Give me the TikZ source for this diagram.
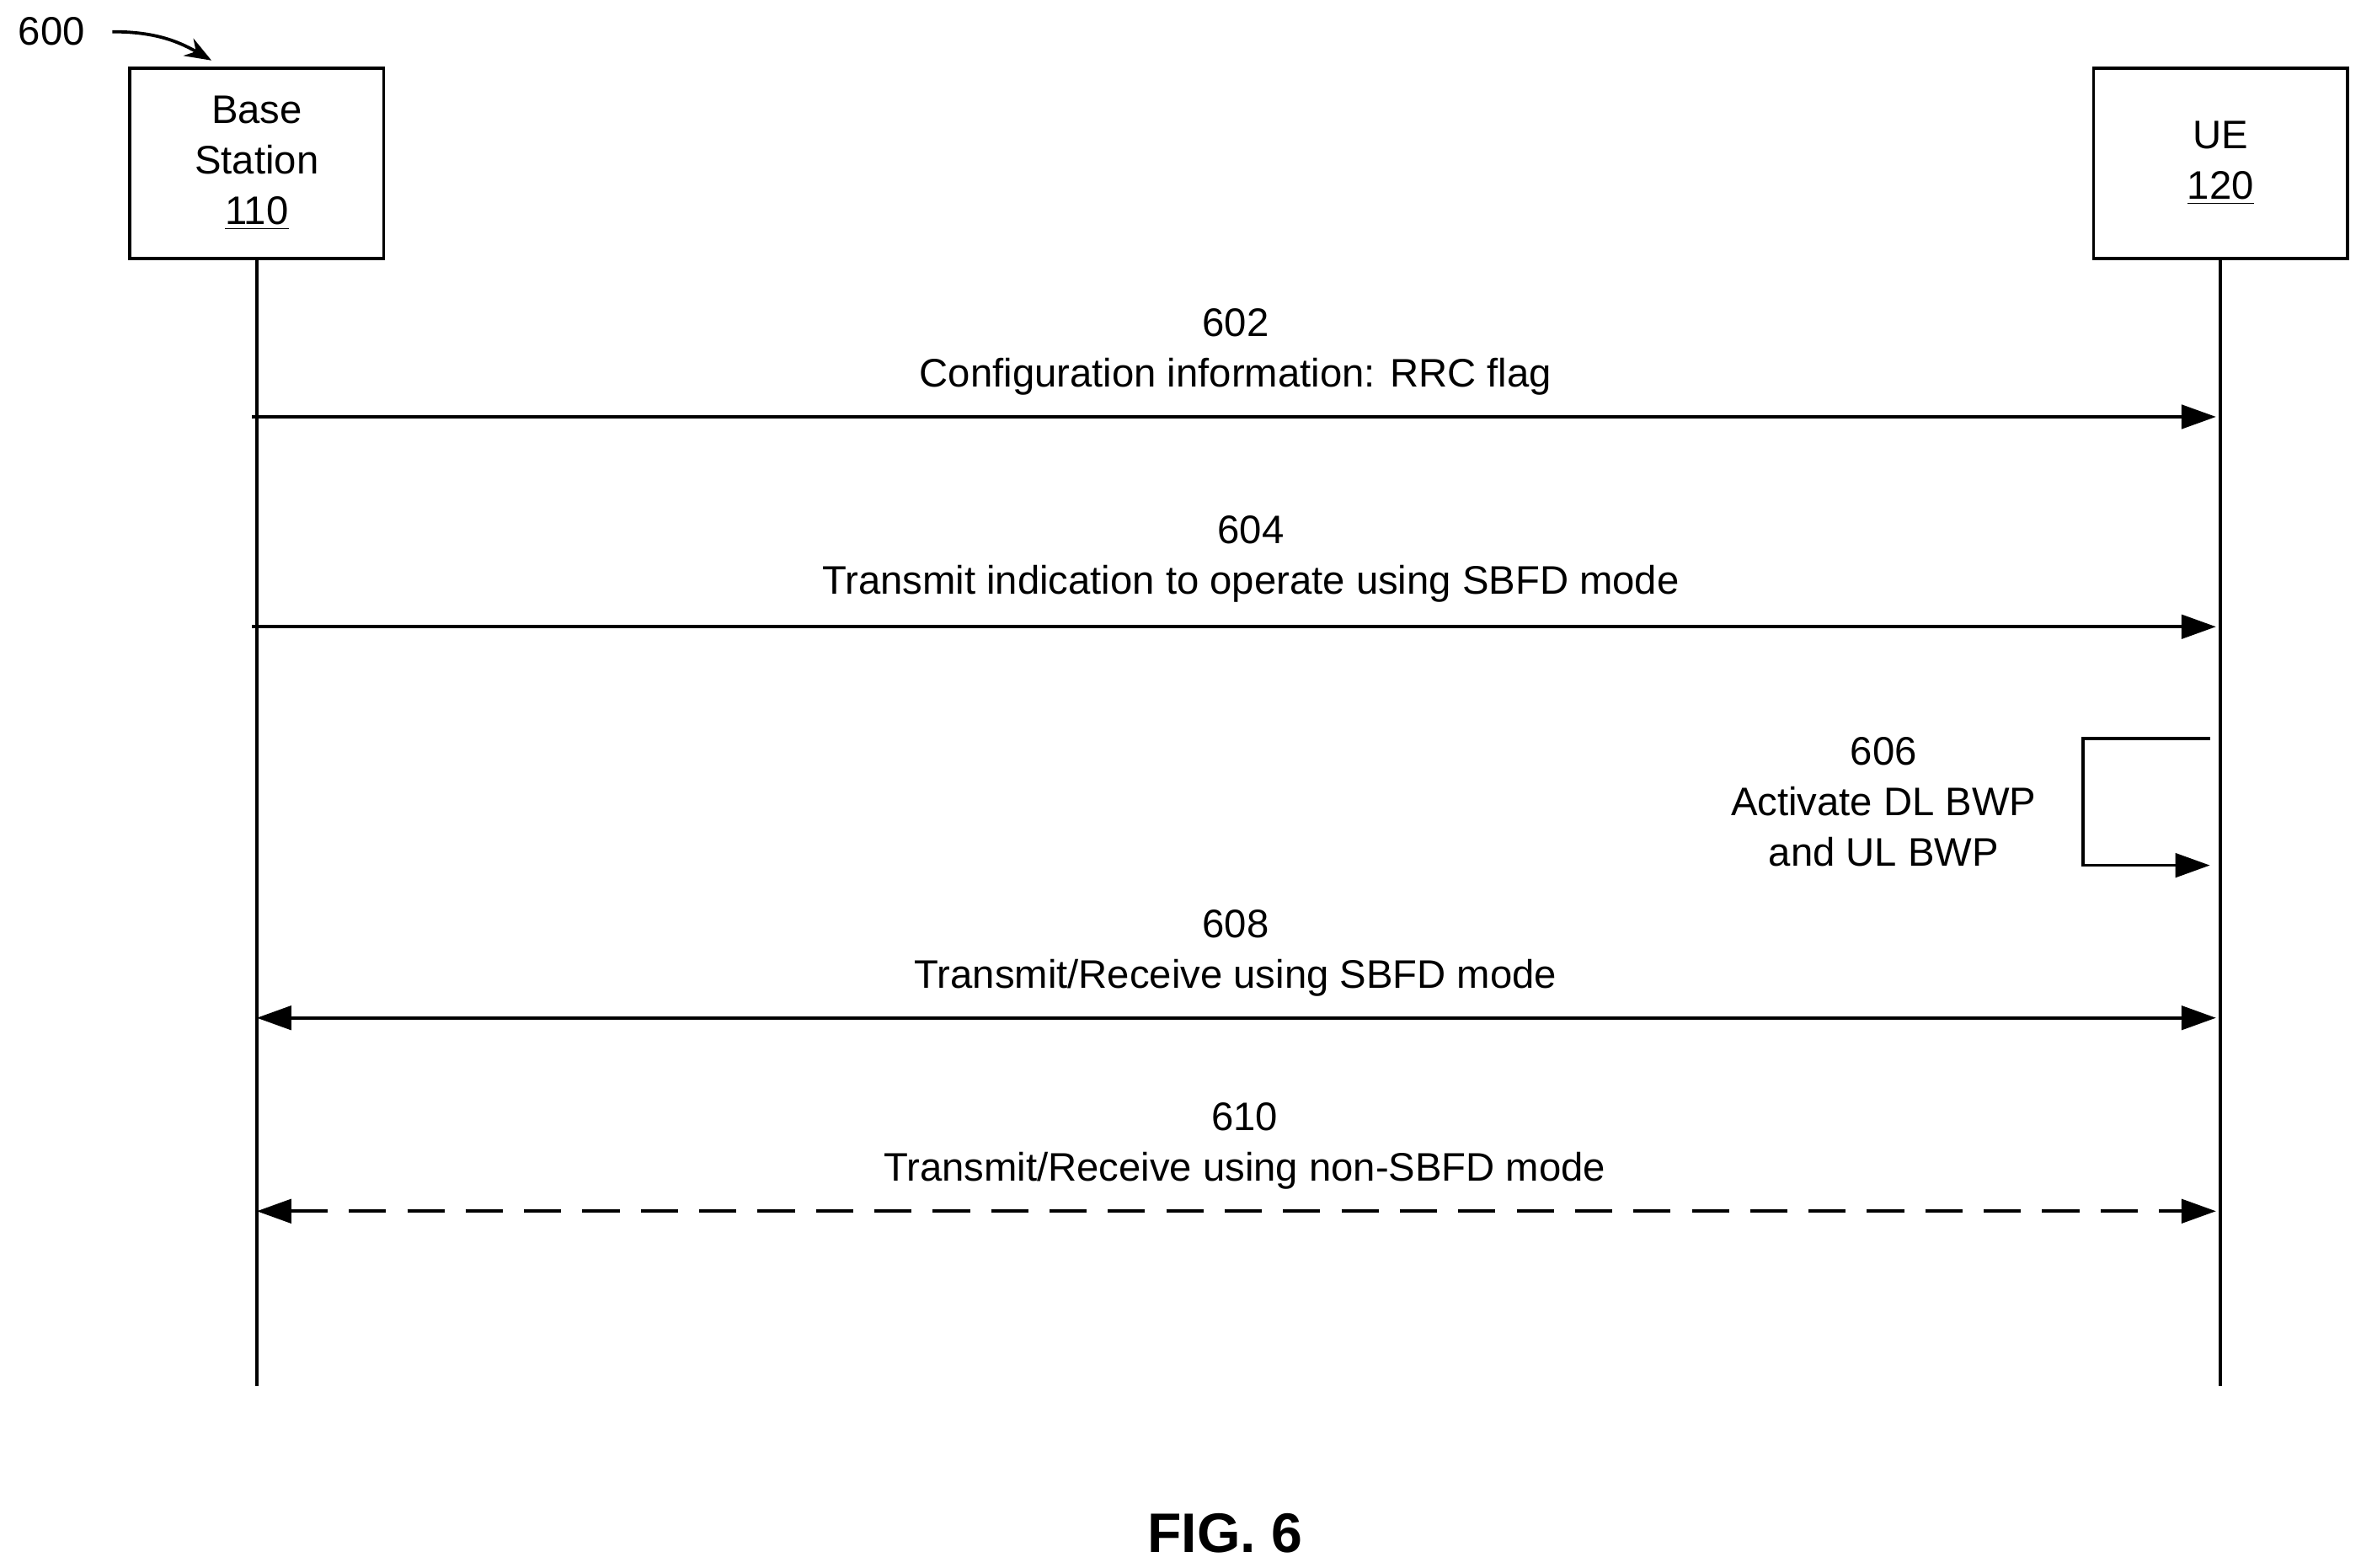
\documentclass[tikz,border=0pt]{standalone}
\usepackage{fontspec}
\setmainfont{Liberation Sans}
\usetikzlibrary{arrows.meta,positioning}
\tikzset{
	% boxes of the two parties
	party/.style={
		rectangle,
		draw=black, line width=1.2pt,
		minimum width=168*0.02cm,
		minimum height=126*0.02cm,
		align=center,
		font=\fontsize{15}{19}\selectfont},
	% message arrows
	msg/.style={
		-{Triangle[length=13pt,width=9pt]},
		line width=1.2pt},
	% message labels
	lbl/.style={
		align=center,
		font=\fontsize{15}{19}\selectfont}
}

\begin{document}
\begin{tikzpicture}[x=0.02cm,y=-0.02cm]
	\useasboundingbox (0,0) rectangle (1563,1038);

	%parties
	\node[party] at (170,108) (bs) {Base\\Station\\\underline{110}};
	\node[party] at (1470,108) (ue) {UE\\\underline{120}};
	\coordinate (bsend) at (170,918);
	\coordinate (ueend) at (1470,918);
	\draw[line width=1.2pt] (bs.south) -- (bsend);
	\draw[line width=1.2pt] (ue.south) -- (ueend);

	%figure reference
	\node[lbl,anchor=west] at (6,21) (ref) {600};
	\coordinate (reftip) at (140,40);
	\draw[line width=1.2pt,-{Stealth[length=10pt]}] (ref.east) ++(12,0) to[out=0,in=150] (reftip);

	%602
	\node[lbl] at (818,233) (l602) {602\\Configuration information: RRC flag};
	\coordinate (a602) at (167,276);
	\coordinate (b602) at (1467,276);
	\draw[msg] (a602) -- (b602);
	%604
	\node[lbl] at (828,370) (l604) {604\\Transmit indication to operate using SBFD mode};
	\coordinate (a604) at (167,415);
	\coordinate (b604) at (1467,415);
	\draw[msg] (a604) -- (b604);
	%606
	\node[lbl] at (1247,531) (l606) {606\\Activate DL BWP\\and UL BWP};
	\coordinate (a606) at (1463,489);
	\coordinate (b606) at (1463,573);
	\draw[msg] (a606) -- (1379,489) -- (1379,573) -- (b606);
	%608
	\node[lbl] at (818,631) (l608) {608\\Transmit/Receive using SBFD mode};
	\coordinate (a608) at (170,674);
	\coordinate (b608) at (1467,674);
	\draw[msg,{Triangle[length=13pt,width=9pt]}-{Triangle[length=13pt,width=9pt]}] (a608) -- (b608);
	%610
	\node[lbl] at (824,759) (l610) {610\\Transmit/Receive using non-SBFD mode};
	\coordinate (a610) at (170,802);
	\coordinate (b610) at (1467,802);
	\draw[msg,dash pattern=on 14pt off 8pt,{Triangle[length=13pt,width=9pt]}-{Triangle[length=13pt,width=9pt]}] (a610) -- (b610);

	\node[font=\fontsize{21}{25}\selectfont\bfseries] at (811,1015) (fig) {FIG. 6};
\end{tikzpicture}
\end{document}
